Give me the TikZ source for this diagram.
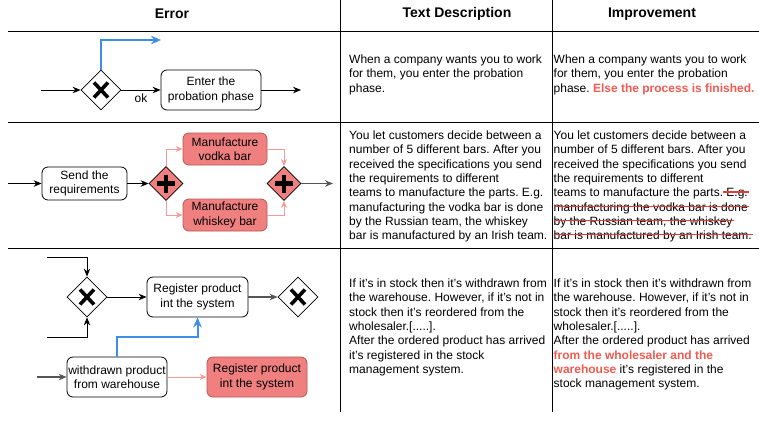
\documentclass[tikz,border=0pt]{standalone}
\usepackage{fontspec}
\setmainfont{Liberation Sans}
\usetikzlibrary{shapes.geometric,arrows.meta,calc}
\frenchspacing
\definecolor{redfill}{HTML}{F08080}
\definecolor{redline}{HTML}{B85450}
\definecolor{pinkarr}{HTML}{F19C99}
\definecolor{bluearr}{HTML}{3D8EE6}
\definecolor{redtext}{HTML}{F05A50}
\definecolor{strikered}{HTML}{E03C3C}
\definecolor{grayline}{HTML}{555555}
\newcommand\strk[1]{\setbox0\hbox{#1}\copy0\kern1.5pt\llap{\textcolor{strikered}{\rule[4.2pt]{\dimexpr\wd0+1.5pt\relax}{1.1pt}}}\kern-1.5pt}
\newcommand\redbf[1]{\textcolor{redtext}{\bfseries #1}}
\tikzset{
  txt/.style={font=\fontsize{12}{14.3}\selectfont\frenchspacing},
  hdr/.style={font=\fontsize{14}{16}\selectfont\bfseries},
  desc/.style={txt,anchor=base west,align=left,inner sep=0},
  task/.style={draw,rounded corners=6,inner sep=0,align=center,txt,line width=0.8},
  redtask/.style={task,fill=redfill,draw=redline},
  gw/.style={diamond,draw,inner sep=0,minimum width=40,minimum height=40,line width=0.8},
  pgw/.style={gw,fill=redfill,minimum width=34,minimum height=34},
  arr/.style={line width=0.9,-{Stealth[length=8,width=6.5]}},
  garr/.style={arr,draw=grayline,line width=1.2},
  parr/.style={line width=0.9,draw=pinkarr,-{Stealth[length=7,width=6]}},
  barr/.style={line width=2,draw=bluearr,-{Stealth[length=10,width=8.5]}},
  xline/.style={line width=3.6},
  pline/.style={line width=4.6},
  rule/.style={line width=0.9}
}
\newcommand\gwX[1]{\draw[xline] ([shift={(-7,-7.5)}]#1.center) -- ([shift={(7,7.5)}]#1.center) ([shift={(-7,7.5)}]#1.center) -- ([shift={(7,-7.5)}]#1.center);}
\newcommand\gwP[1]{\draw[pline] ([shift={(-9,0)}]#1.center) -- ([shift={(9,0)}]#1.center) ([shift={(0,-9)}]#1.center) -- ([shift={(0,9)}]#1.center);}
\begin{document}
\begin{tikzpicture}[x=1pt,y=-1pt]
\useasboundingbox (0,0) rectangle (759,429);
% table rules
\coordinate (hl1a) at (8,31);  \coordinate (hl1b) at (759,31);
\coordinate (hl2a) at (8,122); \coordinate (hl2b) at (759,122);
\coordinate (hl3a) at (8,248); \coordinate (hl3b) at (759,248);
\coordinate (vl1a) at (340.5,0); \coordinate (vl1b) at (340.5,412);
\coordinate (vl2a) at (552.5,0); \coordinate (vl2b) at (552.5,412);
\draw[rule] (hl1a) -- (hl1b) (hl2a) -- (hl2b) (hl3a) -- (hl3b);
\draw[rule] (vl1a) -- (vl1b) (vl2a) -- (vl2b);
% headers
\node[hdr] (h1) at (172,14) {Error};
\node[hdr] (h2) at (457,14) {Text Description};
\node[hdr] (h3) at (652,14) {Improvement};

% ---------- Row 1 ----------
\node[gw] (g1) at (101,90) {};
\gwX{g1}
\node[task,minimum width=100,minimum height=40] (t1) at (211,90) {Enter the\\probation phase};
\coordinate (in1) at (41,90);
\coordinate (out1) at (301,90);
\coordinate (bl1) at (161,40);
\draw[arr] (in1) -- (g1.west);
\draw[arr] (g1.east) -- node[below=3pt,txt,inner sep=0] (ok) {ok} (t1.west);
\draw[arr] (t1.east) -- (out1);
\draw[barr] (g1.north) |- (bl1);

% ---------- Row 2 ----------
\node[task,minimum width=85,minimum height=33] (s2) at (84.5,183.5) {Send the\\requirements};
\node[pgw] (p1) at (166,183.5) {};
\gwP{p1}
\node[redtask,minimum width=84,minimum height=32] (v2) at (225,149) {Manufacture\\vodka bar};
\node[redtask,minimum width=84,minimum height=32] (w2) at (225,215) {Manufacture\\whiskey bar};
\node[pgw] (p2) at (284,183.5) {};
\gwP{p2}
\coordinate (in2) at (8,183.5);
\coordinate (out2) at (333,183.5);
\draw[arr] (in2) -- (s2.west);
\draw[arr] (s2.east) -- (p1.west);
\draw[parr] (p1.north) |- (v2.west);
\draw[parr] (p1.south) |- (w2.west);
\draw[parr] (v2.east) -| (p2.north);
\draw[parr] (w2.east) -| (p2.south);
\draw[garr] (p2.east) -- (out2);

% ---------- Row 3 ----------
\node[gw] (g3) at (87,297) {};
\gwX{g3}
\node[task,minimum width=101,minimum height=40] (r3) at (197.5,297) {Register product\\int the system};
\node[gw] (g4) at (298,297) {};
\gwX{g4}
\node[task,minimum width=100,minimum height=40] (wd) at (117,377) {withdrawn product\\from warehouse};
\node[redtask,minimum width=100,minimum height=40] (rr3) at (257,377) {Register product\\int the system};
\coordinate (a3) at (47,257);
\coordinate (b3) at (47,337);
\coordinate (in3) at (37,377);
\coordinate (bj) at (117,337);
\draw[arr] (a3) -| (g3.north);
\draw[arr] (b3) -| (g3.south);
\draw[arr] (g3.east) -- (r3.west);
\draw[garr] (r3.east) -- (g4.west);
\draw[garr] (in3) -- (wd.west);
\draw[barr] (wd.north) -- (bj) -| (r3.south);
\draw[parr] (wd.east) -- (rr3.west);

% ---------- Text columns (anchor = baseline of last line) ----------
\node[desc] (d1) at (349,92.1) {When a company wants you to work\\for them, you enter the probation\\phase.};
\node[desc] (i1) at (553.5,92.1) {When a company wants you to work\\for them, you enter the probation\\phase. \redbf{Else the process is finished.}};

\node[desc] (d2) at (349,239.6) {You let customers decide between a\\number of 5 different bars. After you\\received the specifications you send\\the requirements to different\\teams to manufacture the parts. E.g.\\manufacturing the vodka bar is done\\by the Russian team, the whiskey\\bar is manufactured by an Irish team.};
\node[desc] (i2) at (553.5,239.6) {You let customers decide between a\\number of 5 different bars. After you\\received the specifications you send\\the requirements to different\\teams to manufacture the parts.\strk{ E.g.}\\\strk{manufacturing the vodka bar is done}\\\strk{by the Russian team, the whiskey}\\\strk{bar is manufactured by an Irish team.}};

\node[desc] (d3) at (349,373.3) {If it's in stock then it's withdrawn from\\the warehouse. However, if it's not in\\stock then it's reordered from the\\wholesaler.[.....].\\After the ordered product has arrived\\it's registered in the stock\\management system.};
\node[desc] (i3) at (553.5,387.6) {If it's in stock then it's withdrawn from\\the warehouse. However, if it's not in\\stock then it's reordered from the\\wholesaler.[.....].\\After the ordered product has arrived\\\redbf{from the wholesaler and the}\\\redbf{warehouse} it's registered in the\\stock management system.};
\end{tikzpicture}
\end{document}
